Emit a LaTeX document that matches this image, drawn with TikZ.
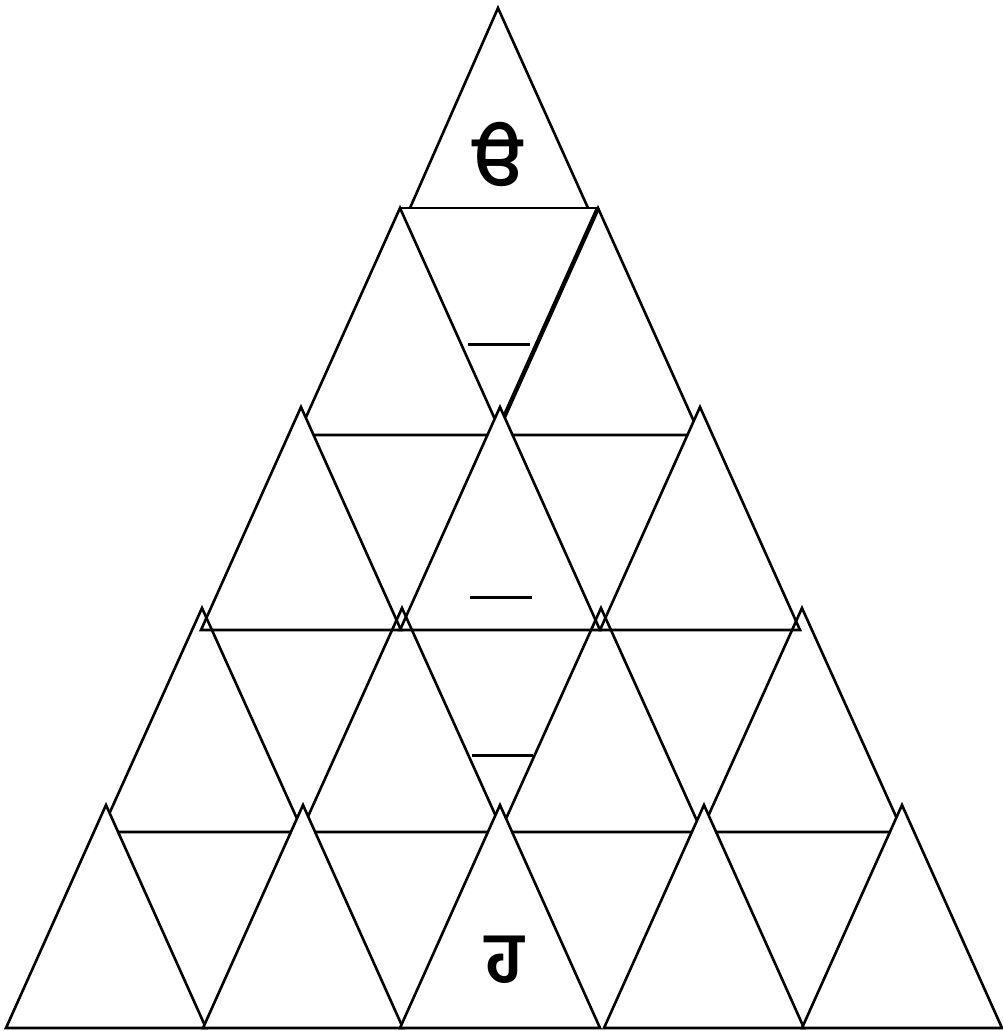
\documentclass[tikz,border=0pt]{standalone}
\usepackage{fontspec}
\newfontfamily\gurmukhi[Script=Gurmukhi]{Hind Jalandhar}
\begin{document}
\begin{tikzpicture}[x=1pt,y=-1pt,line join=miter,
  edge/.style={line width=2.6pt},
  tri/.style={edge},
  tricover/.style={edge,fill=white},
  heavy/.style={line width=4.4pt},
  blank/.style={line width=3pt},
  letter/.style={font=\gurmukhi\bfseries\fontsize{72}{72}\selectfont,inner sep=0pt}]
\useasboundingbox (0,0) rectangle (1003,1031);
% row 1
\coordinate (t1a) at (498,8);
\coordinate (t1l) at (410,208);
\coordinate (t1r) at (588,208);
% row 2
\foreach \n/\x in {a/400,b/598}{
  \coordinate (r2\n-a) at (\x,208);
  \coordinate (r2\n-l) at (\x-102,435);
  \coordinate (r2\n-r) at (\x+102,435);
}
\draw[tri] (t1l) -- (t1a) -- (t1r);
\draw[tri] (r2a-a) -- (r2b-a);
\foreach \n in {a,b}{\draw[tri] (r2\n-a) -- (r2\n-l) -- (r2\n-r) -- cycle;}
\draw[heavy] (r2b-a) -- (r2b-l);
% row 3 (covers row 2)
\foreach \n/\x in {a/301,b/500,c/700}{
  \coordinate (r3\n-a) at (\x,407);
  \coordinate (r3\n-l) at (\x-100,630);
  \coordinate (r3\n-r) at (\x+100,630);
  \draw[tricover] (r3\n-a) -- (r3\n-l) -- (r3\n-r) -- cycle;
}
% row 4 (open)
\foreach \n/\x in {a/202,b/402,c/601,d/802}{
  \coordinate (r4\n-a) at (\x,608);
  \coordinate (r4\n-l) at (\x-101,832);
  \coordinate (r4\n-r) at (\x+101,832);
  \draw[tri] (r4\n-a) -- (r4\n-l) -- (r4\n-r) -- cycle;
}
% row 5 (covers row 4)
\foreach \n/\x in {a/106,b/303,c/500,d/704,e/902}{
  \coordinate (r5\n-a) at (\x,805);
  \coordinate (r5\n-l) at (\x-100,1028);
  \coordinate (r5\n-r) at (\x+100,1028);
  \draw[tricover] (r5\n-a) -- (r5\n-l) -- (r5\n-r) -- cycle;
}
% blanks
\draw[blank] (468,344) -- (530,344);
\draw[blank] (470,597) -- (532,597);
\draw[blank] (472,755) -- (533,755);
% letters
\node[letter] (top) at (498,155) {ੳ};
\node[letter] (bottom) at (505,960) {ਹ};
\end{tikzpicture}
\end{document}
